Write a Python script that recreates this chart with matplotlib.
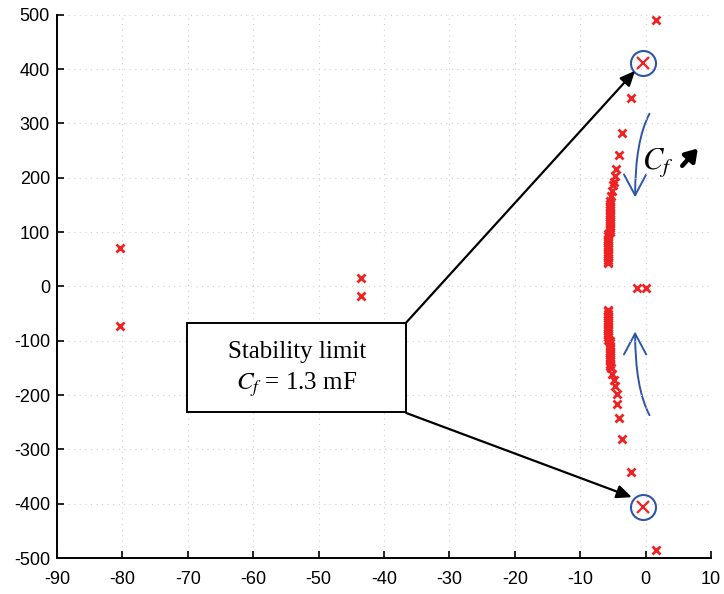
import numpy as np
import matplotlib.pyplot as plt
from matplotlib.patches import FancyArrowPatch, Rectangle

plt.rcParams['font.family'] = ['Liberation Sans', 'DejaVu Sans']
plt.rcParams['mathtext.fontset'] = 'stix'
plt.rcParams['axes.unicode_minus'] = False

far_re = [-80.3, -80.3, -43.5, -43.5, -1.3, 0.0]
far_im = [70, -72, 16, -18, -3, -3]

upper_re = [1.6, -2.3, -3.6, -4.1, -4.5, -4.7, -4.9, -5.0, -5.2, -5.3, -5.4,
            -5.45, -5.45, -5.45, -5.45, -5.45, -5.45, -5.45, -5.45, -5.45, -5.45,
            -5.45, -5.45, -5.45, -5.45,
            -5.75, -5.75, -5.75, -5.75, -5.75, -5.75, -5.75, -5.75, -5.75,
            -5.75, -5.75, -5.75, -5.75, -5.75, -5.75]
upper_im = [490, 346, 283, 242, 216, 203, 193, 186, 176, 166, 158,
            152, 148, 144, 140, 136, 132, 128, 124, 120, 116,
            112, 108, 104, 100,
            96, 92, 88, 84, 80, 76, 72, 68, 64,
            60, 56, 52, 48, 45, 44]

lower_re = [1.6, -2.3, -3.6, -4.1, -4.4, -4.4, -4.7, -4.9, -5.1, -5.3,
            -5.45, -5.45, -5.45, -5.45, -5.45, -5.45, -5.45, -5.45, -5.45, -5.45,
            -5.45, -5.45,
            -5.75, -5.75, -5.75, -5.75, -5.75, -5.75, -5.75, -5.75, -5.75,
            -5.75, -5.75, -5.75, -5.75, -5.75, -5.75]
lower_im = [-486, -342, -281, -242, -216, -198, -183, -172, -161, -150,
            -146, -142, -138, -134, -130, -126, -122, -118, -114, -110,
            -105, -100,
            -98, -94, -90, -86, -82, -78, -74, -70, -66,
            -62, -58, -54, -50, -46, -43]

limit_re = [-0.4, -0.4]
limit_im = [412, -407]

red = '#ee2222'
blue = '#2f55a8'

fig = plt.figure(figsize=(7.24, 5.94), dpi=100)
ax = fig.add_axes([0.0787, 0.0606, 0.9033, 0.9144])

mk = dict(marker='x', linestyle='none', color=red, ms=6, mew=2)
ax.plot(far_re, far_im, **mk)
ax.plot(upper_re, upper_im, **mk)
ax.plot(lower_re, lower_im, **mk)
ax.plot(limit_re, limit_im, marker='x', linestyle='none', color=red, ms=9, mew=1.6)
ax.plot(limit_re, limit_im, marker='o', linestyle='none', mfc='none', mec=blue,
        ms=18, mew=1.5)

ax.set_xlim(-90, 10)
ax.set_ylim(-500, 500)
ax.set_xticks(np.arange(-90, 11, 10))
ax.set_yticks(np.arange(-500, 501, 100))
ax.tick_params(direction='in', length=5, width=1.2, labelsize=13)
ax.tick_params(axis='x', pad=9)
ax.tick_params(axis='y', pad=5)
ax.grid(True, linestyle=(0, (1, 4)), color='#d0d0d0', linewidth=0.8)
for s in ['top', 'right']:
    ax.spines[s].set_visible(False)
for s in ['left', 'bottom']:
    ax.spines[s].set_linewidth(1.4)

# annotation box
ax.add_patch(Rectangle((-70.1, -231), 33.5, 164.5, fill=True, facecolor='white',
                       edgecolor='black', lw=1.4, zorder=5))
ax.text(-53.35, -121, 'Stability limit', ha='center', va='center', fontsize=18,
        family='Liberation Serif', zorder=6)
ax.text(-53.35, -180, r'$C_f$ = 1.3 mF', ha='center', va='center', fontsize=18,
        family='Liberation Serif', zorder=6)

ax.annotate('', xy=(-1.6, 397), xytext=(-36.6, -66.5),
            arrowprops=dict(arrowstyle='-|>,head_length=0.9,head_width=0.4',
                            color='black', lw=1.6, shrinkA=0, shrinkB=0))
ax.annotate('', xy=(-2.1, -388), xytext=(-36.6, -233),
            arrowprops=dict(arrowstyle='-|>,head_length=0.9,head_width=0.4',
                            color='black', lw=1.6, shrinkA=0, shrinkB=0))

# blue curved arrows showing Cf direction
ax.add_patch(FancyArrowPatch((0.6, 318), (-1.6, 164),
                             connectionstyle='angle3,angleA=62,angleB=90',
                             arrowstyle='->,head_length=15,head_width=8',
                             color=blue, lw=1.4, shrinkA=0, shrinkB=0))
ax.add_patch(FancyArrowPatch((0.6, -237), (-1.6, -83),
                             connectionstyle='angle3,angleA=118,angleB=90',
                             arrowstyle='->,head_length=15,head_width=8',
                             color=blue, lw=1.4, shrinkA=0, shrinkB=0))

ax.text(-0.6, 228, r'$C_f$', fontsize=22, ha='left', va='center')
ax.annotate('', xy=(8.0, 254), xytext=(5.6, 222), annotation_clip=False,
            arrowprops=dict(arrowstyle='-|>,head_length=0.7,head_width=0.45',
                            color='black', lw=3.2, shrinkA=0, shrinkB=0))

fig.savefig('out.png', dpi=100)
